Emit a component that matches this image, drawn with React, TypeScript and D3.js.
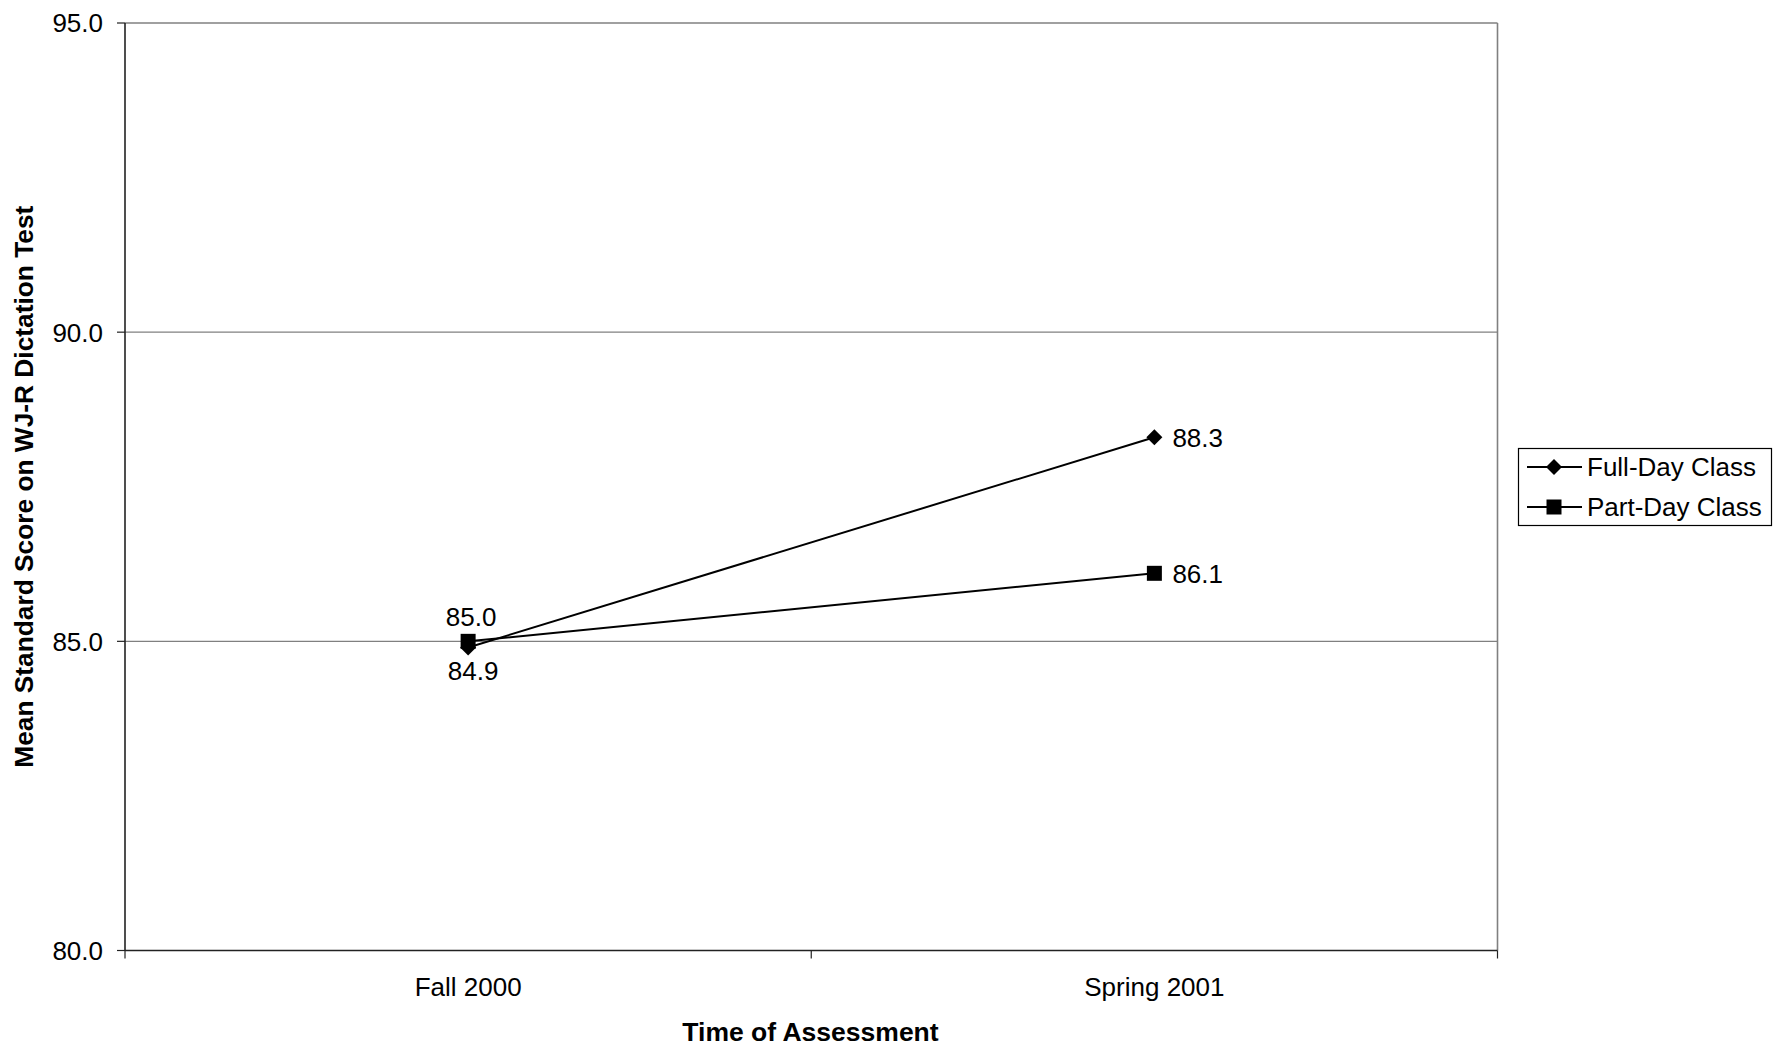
import React from "react";
import * as d3 from "d3";

const categories = ["Fall 2000", "Spring 2001"];
const fullDay = [84.9, 88.3];
const partDay = [85.0, 86.1];
const yTicks = [80, 85, 90, 95];
const seriesNames = ["Full-Day Class", "Part-Day Class"];

const W = 1773;
const H = 1046;
const M = { left: 125, right: 1497.5, top: 23, bottom: 950.5 };
const FONT = "'Liberation Sans', Arial, sans-serif";

export default function App() {
  const x = d3.scaleBand().domain(categories).range([M.left, M.right]);
  const cx = (c: string) => (x(c) as number) + x.bandwidth() / 2;
  const y = d3.scaleLinear().domain([80, 95]).range([M.bottom, M.top]);
  const line = d3
    .line<number>()
    .x((_, i) => cx(categories[i]))
    .y((d) => y(d));

  const diamond = (px: number, py: number, r = 8) =>
    `M${px},${py - r}L${px + r},${py}L${px},${py + r}L${px - r},${py}Z`;
  const square = (px: number, py: number, s = 7.5) =>
    `M${px - s},${py - s}H${px + s}V${py + s}H${px - s}Z`;

  const xBoundaries = [M.left, ...categories.map((c) => (x(c) as number) + x.bandwidth())];

  return (
    <svg
      width={W}
      height={H}
      style={{ position: "absolute", left: 0, top: 0, background: "#fff" }}
      fontFamily={FONT}
    >
      <rect x={0} y={0} width={W} height={H} fill="#fff" />
      {/* gridlines */}
      {yTicks
        .filter((t) => t !== 80)
        .map((t) => (
          <line
            key={"g" + t}
            x1={M.left}
            x2={M.right}
            y1={y(t)}
            y2={y(t)}
            stroke="#808080"
            strokeWidth={t === 95 ? 1.6 : 1.2}
          />
        ))}
      {/* right border */}
      <line x1={M.right} x2={M.right} y1={M.top} y2={M.bottom} stroke="#808080" strokeWidth={1.6} />
      {/* axes */}
      <line x1={M.left} x2={M.left} y1={M.top} y2={M.bottom} stroke="#222" strokeWidth={1.6} />
      <line x1={M.left} x2={M.right} y1={M.bottom} y2={M.bottom} stroke="#222" strokeWidth={1.6} />
      {/* y ticks */}
      {yTicks.map((t) => (
        <g key={"y" + t}>
          <line x1={M.left - 8} x2={M.left} y1={y(t)} y2={y(t)} stroke="#222" strokeWidth={1.2} />
          <text x={103} y={y(t)} dy="0.36em" textAnchor="end" fontSize={26} fill="#000">
            {t.toFixed(1)}
          </text>
        </g>
      ))}
      {/* x ticks */}
      {xBoundaries.map((bx, i) => (
        <line key={"xt" + i} x1={bx} x2={bx} y1={M.bottom} y2={M.bottom + 8} stroke="#222" strokeWidth={1.2} />
      ))}
      {categories.map((c) => (
        <text key={c} x={cx(c)} y={996} textAnchor="middle" fontSize={26} fill="#000">
          {c}
        </text>
      ))}
      {/* axis titles */}
      <text x={810.5} y={1041} textAnchor="middle" fontSize={26.5} fontWeight="bold" fill="#000">
        Time of Assessment
      </text>
      <text
        transform={`translate(33, ${(M.top + M.bottom) / 2}) rotate(-90)`}
        textAnchor="middle"
        fontSize={26.3}
        fontWeight="bold"
        fill="#000"
      >
        Mean Standard Score on WJ-R Dictation Test
      </text>
      {/* lines */}
      <path d={line(fullDay) || ""} fill="none" stroke="#000" strokeWidth={2} />
      <path d={line(partDay) || ""} fill="none" stroke="#000" strokeWidth={2} />
      {/* markers */}
      {partDay.map((v, i) => (
        <path key={"ps" + i} d={square(cx(categories[i]), y(v))} fill="#000" />
      ))}
      {fullDay.map((v, i) => (
        <path key={"fd" + i} d={diamond(cx(categories[i]), y(v))} fill="#000" />
      ))}
      {/* data labels */}
      <text x={cx(categories[0]) + 3} y={626} textAnchor="middle" fontSize={26} fill="#000">
        {partDay[0].toFixed(1)}
      </text>
      <text x={cx(categories[0]) + 5} y={680} textAnchor="middle" fontSize={26} fill="#000">
        {fullDay[0].toFixed(1)}
      </text>
      <text x={cx(categories[1]) + 18} y={y(fullDay[1])} dy="0.36em" textAnchor="start" fontSize={26} fill="#000">
        {fullDay[1].toFixed(1)}
      </text>
      <text x={cx(categories[1]) + 18} y={y(partDay[1])} dy="0.36em" textAnchor="start" fontSize={26} fill="#000">
        {partDay[1].toFixed(1)}
      </text>
      {/* legend */}
      <rect x={1518.5} y={448.5} width={253} height={77} fill="#fff" stroke="#000" strokeWidth={1.2} />
      {seriesNames.map((n, i) => {
        const ly = 467 + i * 40;
        return (
          <g key={n}>
            <line x1={1527} x2={1582} y1={ly} y2={ly} stroke="#000" strokeWidth={2} />
            <path d={i === 0 ? diamond(1554, ly) : square(1554, ly)} fill="#000" />
            <text x={1587} y={ly} dy="0.36em" fontSize={26} fill="#000">
              {n}
            </text>
          </g>
        );
      })}
    </svg>
  );
}
